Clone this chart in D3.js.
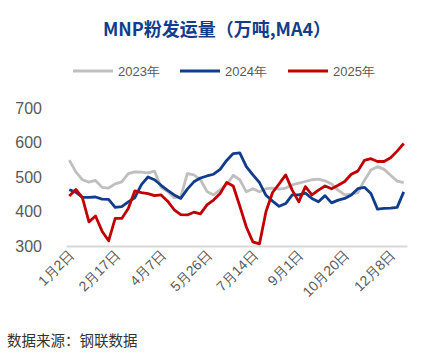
<!DOCTYPE html>
<html>
<head>
<meta charset="utf-8">
<script src="https://cdn.jsdelivr.net/npm/d3@7"></script>
<style>
  body { margin: 0; background: #fff; }
  svg { display: block; font-family: "Liberation Sans", Arial, sans-serif; }
</style>
</head>
<body>
<div id="chart"></div>
<script>
// weekly categories
const weeks = ["1月2日","1月6日","1月13日","1月20日","1月27日","2月3日","2月10日","2月17日","2月24日",
  "3月3日","3月10日","3月17日","3月24日","3月31日","4月7日","4月14日","4月21日","4月28日",
  "5月5日","5月12日","5月19日","5月26日","6月2日","6月9日","6月16日","6月23日","6月30日",
  "7月7日","7月14日","7月21日","7月28日","8月4日","8月11日","8月18日","8月25日",
  "9月1日","9月8日","9月15日","9月22日","9月29日","10月6日","10月13日","10月20日","10月27日",
  "11月3日","11月10日","11月17日","11月24日","12月1日","12月8日","12月15日","12月22日"];

const y2023 = [549,515,492,485,490,470,468,480,486,510,515,514,512,517,470,458,440,442,510,506,
  492,458,448,463,477,505,492,457,466,457,466,468,465,468,477,482,487,492,494,489,
  480,462,448,450,455,490,520,530,522,505,488,484];
const y2024 = [463,456,441,441,442,436,435,412,414,428,440,478,500,492,476,461,448,438,465,486,
  497,503,508,522,548,568,570,530,506,484,447,430,415,423,448,448,453,438,428,446,
  425,433,438,448,466,470,452,407,409,410,412,457];
const y2025 = [445,464,440,370,387,343,315,380,380,409,460,455,452,446,448,430,405,391,390,398,
  393,419,433,452,484,474,416,355,312,306,400,455,480,506,462,428,472,448,462,474,
  466,476,487,508,517,548,553,545,545,556,575,597];

const seriesNames = ["2023年", "2024年", "2025年"];
const yTicks = [300, 400, 500, 600, 700];

const width = 443, height = 354;
const colors = ["#bfbfbf", "#0f3d8c", "#c00000"];
const series = [y2023, y2024, y2025];

const svg = d3.select("#chart").append("svg")
  .attr("width", width)
  .attr("height", height);

// title
svg.append("text")
  .attr("x", 217)
  .attr("y", 36)
  .attr("text-anchor", "middle")
  .style("font-family", "'Noto Sans CJK SC', sans-serif")
  .style("font-weight", "bold")
  .style("font-size", "18px")
  .attr("fill", "#123d8b")
  .text("MNP粉发运量（万吨,MA4）");

// scales
const x = d3.scaleBand()
  .domain(d3.range(weeks.length))
  .range([66, 407]);

const y = d3.scaleLinear()
  .domain([300, 700])
  .range([246, 108]);

const cx = i => x(i) + x.bandwidth() / 2;

// y axis labels
svg.append("g")
  .selectAll("text")
  .data(yTicks)
  .enter()
  .append("text")
  .attr("x", 42)
  .attr("y", d => y(d))
  .attr("dy", "0.36em")
  .attr("text-anchor", "end")
  .attr("fill", "#595959")
  .style("font-size", "16px")
  .text(d => d);

// x axis
const xAxis = d3.axisBottom(x)
  .tickValues(d3.range(0, weeks.length, 7))
  .tickSize(0)
  .tickFormat(i => weeks[i]);

const gx = svg.append("g")
  .attr("transform", "translate(0," + y(300) + ")")
  .call(xAxis);

gx.select(".domain").attr("stroke", "#d9d9d9").attr("stroke-width", 2);
gx.selectAll("text")
  .attr("fill", "#595959")
  .style("font-family", "'Liberation Sans', Arial, sans-serif")
  .style("font-size", "14px")
  .attr("text-anchor", "end")
  .attr("x", -3)
  .attr("y", 6)
  .attr("dy", "0.35em")
  .attr("transform", "rotate(-45)");

// lines
const line = d3.line()
  .x((d, i) => cx(i))
  .y(d => y(d));

series.forEach((s, k) => {
  svg.append("path")
    .datum(s)
    .attr("fill", "none")
    .attr("stroke", colors[k])
    .attr("stroke-width", 2.8)
    .attr("stroke-linejoin", "round")
    .attr("d", line);
});

// legend
const legendX = [73, 180, 288];
const legend = svg.append("g");
seriesNames.forEach((name, k) => {
  legend.append("line")
    .attr("x1", legendX[k])
    .attr("x2", legendX[k] + 40)
    .attr("y1", 71)
    .attr("y2", 71)
    .attr("stroke", colors[k])
    .attr("stroke-width", 3);
  legend.append("text")
    .attr("x", legendX[k] + 45)
    .attr("y", 71)
    .attr("dy", "0.36em")
    .attr("fill", "#595959")
    .style("font-size", "13px")
    .text(name);
});

// source note
svg.append("text")
  .attr("x", 7)
  .attr("y", 346)
  .attr("fill", "#333")
  .style("font-family", "'Noto Sans CJK SC', sans-serif")
  .style("font-size", "14.5px")
  .text("数据来源：钢联数据");
</script>
</body>
</html>
